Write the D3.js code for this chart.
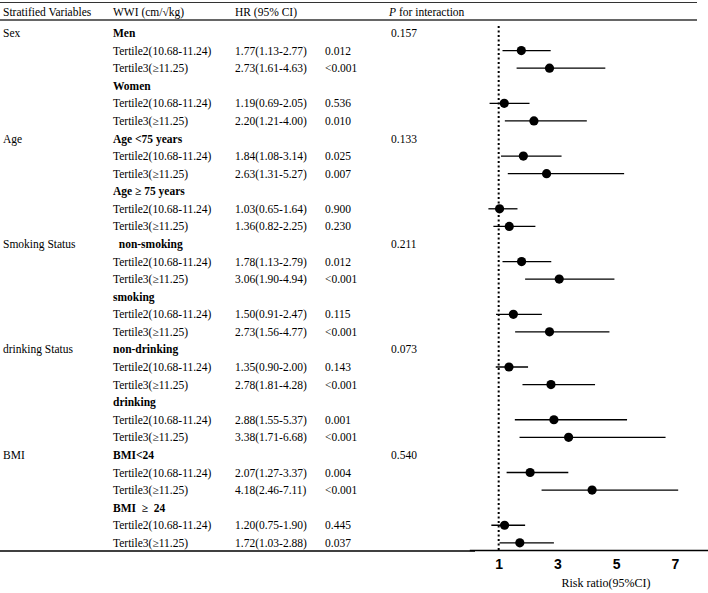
<!DOCTYPE html>
<html><head><meta charset="utf-8">
<script src="https://cdn.jsdelivr.net/npm/d3@7"></script>
<style>
html,body{margin:0;padding:0;background:#fff;}
svg text{font-family:"Liberation Serif","Times New Roman",serif;font-size:11.5px;fill:#000;}
</style></head>
<body><svg id="c" width="708" height="593"></svg>
<script>
const groups = ["Sex","Age","Smoking Status","drinking Status","BMI"];
const pInteraction = ["0.157","0.133","0.211","0.073","0.540"];
const subgroups = ["Men","Women","Age <75 years","Age \u2265 75 years","  non-smoking","smoking","non-drinking","drinking","BMI<24","BMI  \u2265  24"];
const tertileLabels = ["Tertile2(10.68-11.24)","Tertile3(\u226511.25)"];
const hr    = [1.77,2.73,1.19,2.20,1.84,2.63,1.03,1.36,1.78,3.06,1.50,2.73,1.35,2.78,2.88,3.38,2.07,4.18,1.20,1.72];
const lower = [1.13,1.61,0.69,1.21,1.08,1.31,0.65,0.82,1.13,1.90,0.91,1.56,0.90,1.81,1.55,1.71,1.27,2.46,0.75,1.03];
const upper = [2.77,4.63,2.05,4.00,3.14,5.27,1.64,2.25,2.79,4.94,2.47,4.77,2.00,4.28,5.37,6.68,3.37,7.11,1.90,2.88];
const pValues = ["0.012","<0.001","0.536","0.010","0.025","0.007","0.900","0.230","0.012","<0.001","0.115","<0.001","0.143","<0.001","0.001","<0.001","0.004","<0.001","0.445","0.037"];
const xTicks = [1,3,5,7];
const headers = ["Stratified Variables","WWI (cm/\u221Akg)","HR (95% CI)"];

const svg = d3.select("#c");
const rowY = i => 33 + i*17.58;
const col = {grp:3, sub:113, hr:235, p:325, pint:391};
const x = d3.scaleLinear().domain([0, 8.125]).range([469.3, 708]);

// header lines
svg.append("line").attr("x1",0).attr("x2",697).attr("y1",2.5).attr("y2",2.5).attr("stroke","#333").attr("stroke-width",1.2);
svg.append("line").attr("x1",0).attr("x2",697).attr("y1",20).attr("y2",20).attr("stroke","#333").attr("stroke-width",1.4);
// header text
[col.grp,col.sub,col.hr].forEach((cx,i)=>{
  svg.append("text").attr("x",cx).attr("y",12).attr("dy","0.35em").text(headers[i]);
});
const ph = svg.append("text").attr("x",col.pint-2).attr("y",12).attr("dy","0.35em");
ph.append("tspan").attr("font-style","italic").text("P");
ph.append("tspan").text(" for interaction");

// rows
let row = 0, k = 0;
groups.forEach((g, gi) => {
  svg.append("text").attr("x",col.grp).attr("y",rowY(row)).attr("dy","0.35em").text(g);
  svg.append("text").attr("x",col.pint).attr("y",rowY(row)).attr("dy","0.35em").text(pInteraction[gi]);
  for (let s = 0; s < 2; s++) {
    const sg = subgroups[gi*2+s];
    svg.append("text").attr("x",col.sub).attr("y",rowY(row)).attr("dy","0.35em")
      .attr("font-weight","bold").style("white-space","pre").text(sg);
    row++;
    for (let t = 0; t < 2; t++) {
      const y = rowY(row);
      svg.append("text").attr("x",col.sub).attr("y",y).attr("dy","0.35em").text(tertileLabels[t]);
      svg.append("text").attr("x",col.hr).attr("y",y).attr("dy","0.35em")
        .text(hr[k].toFixed(2)+"("+lower[k].toFixed(2)+"-"+upper[k].toFixed(2)+")");
      svg.append("text").attr("x",col.p).attr("y",y).attr("dy","0.35em").text(pValues[k]);
      svg.append("line").attr("x1",x(lower[k])).attr("x2",x(upper[k])).attr("y1",y).attr("y2",y)
        .attr("stroke","#000").attr("stroke-width",1.3);
      svg.append("circle").attr("cx",x(hr[k])).attr("cy",y).attr("r",4.6).attr("fill","#000");
      k++; row++;
    }
  }
});

// reference dotted line
svg.append("line").attr("x1",x(1)).attr("x2",x(1)).attr("y1",26).attr("y2",550)
  .attr("stroke","#000").attr("stroke-width",2).attr("stroke-dasharray","2,2.5");

// bottom table line
svg.append("line").attr("x1",0).attr("x2",475).attr("y1",551).attr("y2",551).attr("stroke","#000").attr("stroke-width",1.4);

// axis
const ax = svg.append("g").attr("transform","translate(0,550)")
  .call(d3.axisBottom(x).tickValues(xTicks).tickSize(0).tickPadding(9).tickFormat(d3.format("d")));
ax.select(".domain").attr("stroke","#000").attr("stroke-width",1.4);
ax.selectAll("text").style("font-family","'Liberation Sans',Arial,sans-serif").style("font-size","14px").style("font-weight","bold");

svg.append("text").attr("x",606).attr("y",583).attr("dy","0.35em").attr("text-anchor","middle")
  .style("font-size","12px").text("Risk ratio(95%CI)");
</script></body></html>
